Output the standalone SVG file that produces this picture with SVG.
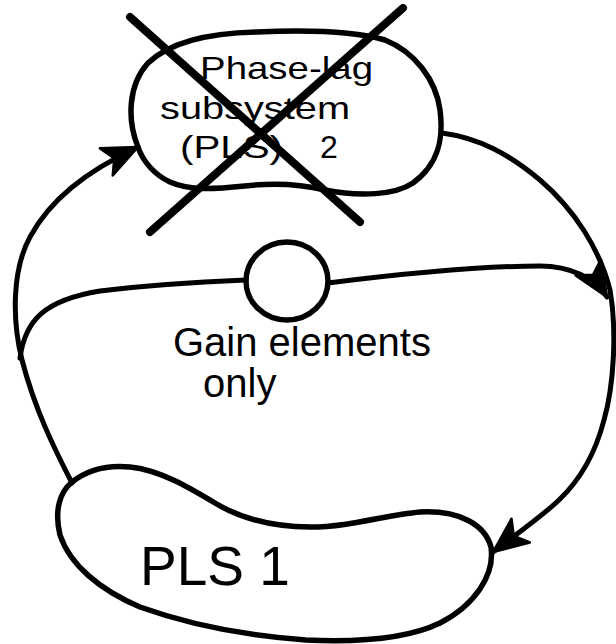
<svg xmlns="http://www.w3.org/2000/svg" width="616" height="644" viewBox="0 0 616 644">
  <style>
    .outline { fill: none; stroke: #000; stroke-width: 5.5; stroke-linecap: round; stroke-linejoin: round; }
    .conn { fill: none; stroke: #000; stroke-width: 5; stroke-linecap: round; stroke-linejoin: round; }
    .cross { fill: none; stroke: #000; stroke-width: 8; stroke-linecap: round; }
    .lbl { font-family: "Liberation Sans", "DejaVu Sans", sans-serif; fill: #000; }
  </style>
  <defs>
    <marker id="arrow" markerUnits="userSpaceOnUse" markerWidth="40" markerHeight="40" viewBox="-30 -15 32 30" refX="0" refY="0" orient="auto">
      <path d="M0,0 L-28,-12 L-21,0 L-28,12 Z" fill="#000" stroke="#000" stroke-width="2" stroke-linejoin="round"/>
    </marker>
  </defs>
  <rect width="616" height="644" fill="#fff"/>

  <g id="pls2">
    <path class="outline" d="M 138,147 C 127,120 128,85 148,63 C 170,42 210,33 257,32 C 300,30 350,30 385,40 C 415,52 436,80 440,110 C 444,140 438,165 413,183 C 395,195 360,197 325,190 C 300,184 270,183 245,186 C 215,189 190,191 170,182 C 155,175 143,162 138,147 Z"/>
    <text class="lbl" x="200" y="79" font-size="32" textLength="173" lengthAdjust="spacingAndGlyphs">Phase-lag</text>
    <text class="lbl" x="160" y="119" font-size="32" textLength="190" lengthAdjust="spacingAndGlyphs">subsystem</text>
    <text class="lbl" x="180" y="158" font-size="32" textLength="103" lengthAdjust="spacingAndGlyphs">(PLS)</text>
    <text class="lbl" x="320" y="158" font-size="32">2</text>
    <line class="cross" x1="130" y1="17" x2="360" y2="222"/>
    <line class="cross" x1="403" y1="8" x2="150" y2="232"/>
  </g>

  <g id="gain-element">
    <ellipse class="outline" cx="287" cy="281" rx="41" ry="39"/>
    <text class="lbl" x="173" y="356" font-size="40">Gain elements</text>
    <text class="lbl" x="203" y="397" font-size="40">only</text>
  </g>

  <g id="pls1">
    <path class="outline" d="M 72,482 C 90,468 110,465 130,467 C 160,470 190,488 215,503 C 240,518 270,527 310,527 C 350,527 385,515 420,512 C 460,510 485,525 491,547 C 495,575 475,605 440,623 C 405,640 350,642 306,640 C 250,636 190,625 140,607 C 100,590 70,565 60,535 C 54,510 60,492 72,482 Z"/>
    <text class="lbl" x="140" y="585" font-size="55">PLS 1</text>
  </g>

  <g id="connectors">
    <path class="conn" marker-end="url(#arrow)" d="M 72,483 C 55,450 35,410 22,360 C 12,320 12,270 30,237 C 50,200 85,172 138,147"/>
    <path class="conn" d="M 20,358 C 25,320 45,300 100,291 C 150,285 200,282 246,280"/>
    <path class="conn" marker-end="url(#arrow)" d="M 328,283 C 400,274 480,266 540,266 C 570,266 595,278 607,297"/>
    <path class="conn" marker-end="url(#arrow)" d="M 442,133 C 480,138 510,155 540,180 C 575,210 600,250 610,290 C 617,330 614,385 604,420 C 595,455 580,480 559,500 C 540,518 515,535 493,552"/>
  </g>
</svg>
